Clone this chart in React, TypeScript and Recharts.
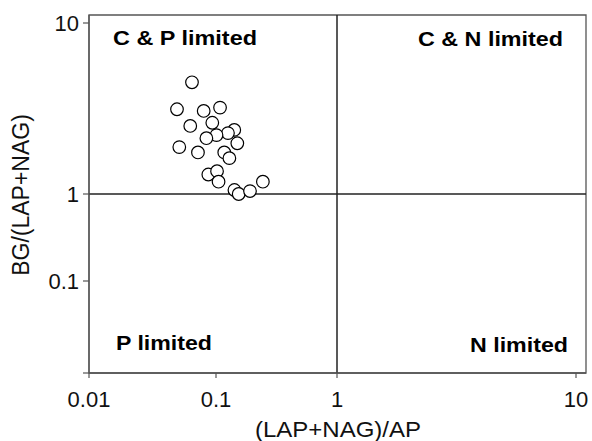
import { ScatterChart, Scatter, XAxis, YAxis, ReferenceLine, ReferenceArea } from 'recharts'

// ─── Data ────────────────────────────────────────────────────────────

const lapNagAp = [
  0.0647, 0.0493, 0.080, 0.108, 0.0627, 0.0935, 0.1416, 0.1256, 0.101, 0.084, 0.150,
  0.0514, 0.0721, 0.117, 0.129, 0.087, 0.102, 0.105, 0.244, 0.142, 0.154, 0.191,
]
const bgLapNag = [
  4.50, 3.13, 3.06, 3.20, 2.50, 2.61, 2.37, 2.27, 2.21, 2.12, 1.98,
  1.88, 1.75, 1.75, 1.62, 1.30, 1.36, 1.18, 1.18, 1.055, 1.00, 1.04,
]
const tickValues = [0.01, 0.1, 1, 10]
const xTickLabels = ['0.01', '0.1', '1', '10']
const yTickLabels = ['', '0.1', '1', '10']

// ─── Axis warp (the source figure stretches its top decade) ──────────

const X_STOPS = [0, 127, 248, 487]
const Y_STOPS = [0, 92, 179, 350]
const X_MAX = 497
const Y_MAX = 358

function warp(v: number, stops: number[]) {
  const l = Math.log10(v) + 2
  const i = Math.min(Math.max(Math.floor(l), 0), 2)
  return stops[i] + (l - i) * (stops[i + 1] - stops[i])
}

const points = lapNagAp.map((x, i) => ({ x: warp(x, X_STOPS), y: warp(bgLapNag[i], Y_STOPS) }))
const xTicks = tickValues.map(v => warp(v, X_STOPS))
const yTicks = tickValues.map(v => warp(v, Y_STOPS))

const FONT = 'Arial, "Liberation Sans", Helvetica, sans-serif'
const AXIS_COLOR = '#555'

// ─── Ticks ───────────────────────────────────────────────────────────

function XTick({ x, y, index }: any) {
  return (
    <text x={x} y={y + 29} textAnchor="middle" fontSize={22} fontFamily={FONT} fill="#111">
      {xTickLabels[index]}
    </text>
  )
}

function YTick({ x, y, index }: any) {
  return (
    <text x={x} y={y} dy="0.36em" textAnchor="end" fontSize={22} fontFamily={FONT} fill="#111">
      {yTickLabels[index]}
    </text>
  )
}

const Dot = (props: any) => (
  <circle cx={props.cx} cy={props.cy} r={6.3} fill="#fff" stroke="#000" strokeWidth={1.2} />
)

// ─── Component ───────────────────────────────────────────────────────

export default function App() {
  const bold = { fontSize: 20, fontWeight: 700, fontFamily: FONT, fill: '#000' }
  return (
    <div style={{ position: 'absolute', left: 0, top: 0, width: 592, height: 441, background: '#fff' }}>
      <ScatterChart width={592} height={441} margin={{ top: 15, right: 6, left: 0, bottom: 0 }}>
        <XAxis
          type="number" dataKey="x" domain={[0, X_MAX]} ticks={xTicks} interval={0}
          height={68} tickSize={5} tickMargin={0} tick={<XTick />}
          axisLine={{ stroke: AXIS_COLOR, strokeWidth: 1.3 }} tickLine={{ stroke: AXIS_COLOR, strokeWidth: 1.2 }}
        />
        <YAxis
          type="number" dataKey="y" domain={[0, Y_MAX]} ticks={yTicks} interval={0}
          width={89} tickSize={6} tickMargin={4} tick={<YTick />}
          axisLine={{ stroke: AXIS_COLOR, strokeWidth: 1.3 }} tickLine={{ stroke: AXIS_COLOR, strokeWidth: 1.2 }}
        />
        <ReferenceArea x1={0} x2={X_MAX} y1={0} y2={Y_MAX} fill="none" stroke={AXIS_COLOR} strokeWidth={1.3} />
        <ReferenceLine x={warp(1, X_STOPS)} stroke="#222" strokeWidth={1.5} />
        <ReferenceLine y={warp(1, Y_STOPS)} stroke="#222" strokeWidth={1.5} />
        <Scatter data={points} shape={Dot} isAnimationActive={false} />

        <text x={113} y={45} textLength={144} lengthAdjust="spacingAndGlyphs" {...bold}>C &amp; P limited</text>
        <text x={418} y={46} textLength={145} lengthAdjust="spacingAndGlyphs" {...bold}>C &amp; N limited</text>
        <text x={116} y={350} textLength={96} lengthAdjust="spacingAndGlyphs" {...bold}>P limited</text>
        <text x={470} y={352} textLength={98} lengthAdjust="spacingAndGlyphs" {...bold}>N limited</text>

        <text x={338} y={437} textAnchor="middle" fontSize={22} fontFamily={FONT} fill="#111"
          textLength={166} lengthAdjust="spacingAndGlyphs">(LAP+NAG)/AP</text>
        <text x={29} y={195} textAnchor="middle" fontSize={23} fontFamily={FONT} fill="#111"
          transform="rotate(-90, 29, 195)">BG/(LAP+NAG)</text>
      </ScatterChart>
    </div>
  )
}
